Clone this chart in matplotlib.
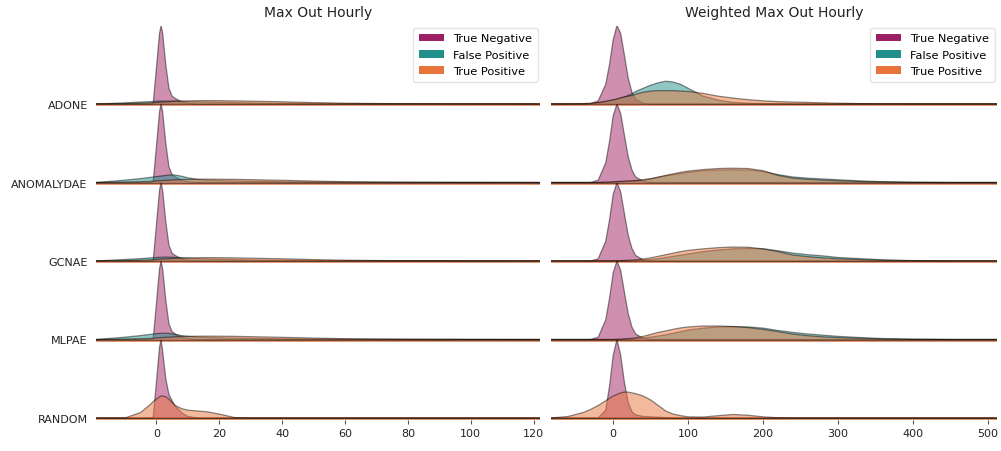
import matplotlib
matplotlib.use("Agg")
import matplotlib.pyplot as plt
from matplotlib.patches import Patch
import numpy as np

# ---------------- data (relative KDE heights) ----------------
MODELS = ["ADONE", "ANOMALYDAE", "GCNAE", "MLPAE", "RANDOM"]
CLASSES = ["True Negative", "False Positive", "True Positive"]
COLORS = ["#9e2064", "#21908c", "#e8743b"]
TITLES = ["Max Out Hourly", "Weighted Max Out Hourly"]

# Left panel: Max Out Hourly
LX = [-19, -10, -5, -2, -1, 0, 1, 1.5, 2, 3, 4, 5, 6, 8, 10, 13, 16, 20, 25, 30, 40, 50, 60, 70, 80, 100, 122]
LEFT_TN = [
    [0, 0, 0, 0, 0.01, 0.45, 0.9, 1.0, 0.9, 0.5, 0.2, 0.1, 0.07, 0.03, 0.01, 0, 0, 0, 0, 0, 0, 0, 0, 0, 0, 0, 0],
    [0, 0, 0, 0, 0.01, 0.45, 0.9, 1.0, 0.9, 0.5, 0.2, 0.1, 0.07, 0.03, 0.01, 0, 0, 0, 0, 0, 0, 0, 0, 0, 0, 0, 0],
    [0, 0, 0, 0, 0.01, 0.45, 0.9, 1.0, 0.9, 0.5, 0.2, 0.1, 0.07, 0.03, 0.01, 0, 0, 0, 0, 0, 0, 0, 0, 0, 0, 0, 0],
    [0, 0, 0, 0, 0.01, 0.45, 0.9, 1.0, 0.9, 0.5, 0.2, 0.1, 0.07, 0.03, 0.01, 0, 0, 0, 0, 0, 0, 0, 0, 0, 0, 0, 0],
    [0, 0, 0, 0, 0.01, 0.45, 0.9, 1.0, 0.85, 0.5, 0.3, 0.22, 0.15, 0.07, 0.02, 0, 0, 0, 0, 0, 0, 0, 0, 0, 0, 0, 0],
]
LEFT_FP = [
    [0, 0.015, 0.025, 0.03, 0.032, 0.035, 0.037, 0.038, 0.038, 0.038, 0.037, 0.036, 0.035, 0.033, 0.03, 0.028, 0.025, 0.022, 0.018, 0.014, 0.008, 0.004, 0.002, 0.001, 0, 0, 0],
    [0, 0.03, 0.05, 0.065, 0.07, 0.075, 0.08, 0.082, 0.085, 0.09, 0.095, 0.097, 0.095, 0.08, 0.06, 0.04, 0.03, 0.025, 0.02, 0.016, 0.01, 0.006, 0.004, 0.002, 0.001, 0, 0],
    [0, 0.02, 0.03, 0.04, 0.042, 0.045, 0.047, 0.048, 0.049, 0.05, 0.05, 0.048, 0.045, 0.04, 0.035, 0.03, 0.026, 0.022, 0.018, 0.014, 0.009, 0.005, 0.003, 0.002, 0.001, 0, 0],
    [0, 0.03, 0.05, 0.065, 0.07, 0.075, 0.078, 0.08, 0.08, 0.08, 0.078, 0.072, 0.065, 0.05, 0.04, 0.032, 0.027, 0.022, 0.018, 0.014, 0.009, 0.005, 0.003, 0.002, 0.001, 0, 0],
    [0, 0, 0, 0, 0, 0, 0, 0, 0, 0, 0, 0, 0, 0, 0, 0, 0, 0, 0, 0, 0, 0, 0, 0, 0, 0, 0],
]
LEFT_TP = [
    [0, 0.005, 0.01, 0.015, 0.017, 0.02, 0.023, 0.024, 0.025, 0.028, 0.03, 0.033, 0.035, 0.038, 0.04, 0.042, 0.043, 0.042, 0.04, 0.036, 0.028, 0.018, 0.01, 0.006, 0.004, 0.002, 0],
    [0, 0.005, 0.01, 0.015, 0.017, 0.02, 0.023, 0.024, 0.025, 0.028, 0.03, 0.033, 0.035, 0.038, 0.04, 0.042, 0.043, 0.042, 0.04, 0.036, 0.028, 0.018, 0.01, 0.006, 0.004, 0.002, 0],
    [0, 0.005, 0.01, 0.015, 0.017, 0.02, 0.023, 0.024, 0.025, 0.028, 0.03, 0.033, 0.035, 0.038, 0.04, 0.042, 0.043, 0.042, 0.04, 0.036, 0.028, 0.018, 0.01, 0.006, 0.004, 0.002, 0],
    [0, 0.005, 0.01, 0.015, 0.017, 0.02, 0.023, 0.024, 0.025, 0.028, 0.03, 0.033, 0.035, 0.038, 0.04, 0.042, 0.043, 0.042, 0.04, 0.036, 0.028, 0.018, 0.01, 0.006, 0.004, 0.002, 0],
    [0, 0, 0.07, 0.17, 0.21, 0.24, 0.27, 0.28, 0.28, 0.27, 0.24, 0.2, 0.16, 0.12, 0.1, 0.09, 0.08, 0.05, 0.005, 0, 0, 0, 0, 0, 0, 0, 0],
]

# Right panel: Weighted Max Out Hourly
RX = [-83, -60, -40, -30, -20, -10, -5, 0, 5, 10, 15, 20, 25, 30, 40, 50, 60, 70, 80, 90, 100,
      120, 140, 160, 180, 200, 220, 240, 260, 280, 300, 330, 360, 400, 450, 512]
RIGHT_TN = [
    [0, 0, 0, 0.005, 0.04, 0.25, 0.5, 0.82, 1.0, 0.9, 0.62, 0.33, 0.15, 0.06, 0.01, 0, 0, 0, 0, 0, 0, 0, 0, 0, 0, 0, 0, 0, 0, 0, 0, 0, 0, 0, 0, 0],
    [0, 0, 0, 0, 0.03, 0.25, 0.52, 0.85, 1.0, 0.88, 0.6, 0.33, 0.16, 0.07, 0.015, 0, 0, 0, 0, 0, 0, 0, 0, 0, 0, 0, 0, 0, 0, 0, 0, 0, 0, 0, 0, 0],
    [0, 0, 0, 0, 0.03, 0.25, 0.52, 0.85, 1.0, 0.88, 0.6, 0.33, 0.16, 0.07, 0.015, 0, 0, 0, 0, 0, 0, 0, 0, 0, 0, 0, 0, 0, 0, 0, 0, 0, 0, 0, 0, 0],
    [0, 0, 0, 0, 0.03, 0.25, 0.52, 0.85, 1.0, 0.88, 0.6, 0.33, 0.16, 0.07, 0.015, 0, 0, 0, 0, 0, 0, 0, 0, 0, 0, 0, 0, 0, 0, 0, 0, 0, 0, 0, 0, 0],
    [0, 0, 0, 0, 0, 0.1, 0.4, 0.8, 1.0, 0.8, 0.45, 0.2, 0.08, 0.04, 0.02, 0.015, 0.01, 0.005, 0, 0, 0, 0, 0, 0, 0, 0, 0, 0, 0, 0, 0, 0, 0, 0, 0, 0],
]
RIGHT_FP = [
    [0, 0, 0, 0.005, 0.015, 0.03, 0.04, 0.05, 0.06, 0.075, 0.09, 0.11, 0.13, 0.16, 0.2, 0.24, 0.27, 0.29, 0.28, 0.25, 0.2, 0.1, 0.05, 0.02, 0.01, 0.005, 0.003, 0, 0, 0, 0, 0, 0, 0, 0, 0],
    [0, 0, 0, 0, 0, 0, 0, 0.005, 0.007, 0.01, 0.012, 0.015, 0.017, 0.02, 0.03, 0.045, 0.065, 0.085, 0.1, 0.115, 0.13, 0.15, 0.16, 0.163, 0.16, 0.14, 0.1, 0.07, 0.055, 0.045, 0.035, 0.02, 0.01, 0.003, 0, 0],
    [0, 0, 0, 0, 0, 0, 0, 0, 0, 0, 0, 0.002, 0.004, 0.006, 0.01, 0.02, 0.03, 0.045, 0.06, 0.075, 0.09, 0.12, 0.14, 0.155, 0.16, 0.155, 0.13, 0.1, 0.08, 0.065, 0.045, 0.03, 0.015, 0.005, 0, 0],
    [0, 0, 0, 0, 0, 0, 0, 0, 0, 0, 0.003, 0.005, 0.007, 0.01, 0.02, 0.03, 0.045, 0.06, 0.08, 0.1, 0.12, 0.145, 0.16, 0.165, 0.16, 0.145, 0.115, 0.09, 0.07, 0.055, 0.04, 0.025, 0.012, 0.004, 0, 0],
    [0, 0, 0, 0, 0, 0, 0, 0, 0, 0, 0, 0, 0, 0, 0, 0, 0, 0, 0, 0, 0, 0, 0, 0, 0, 0, 0, 0, 0, 0, 0, 0, 0, 0, 0, 0],
]
RIGHT_TP = [
    [0, 0, 0.005, 0.01, 0.02, 0.035, 0.045, 0.055, 0.065, 0.08, 0.09, 0.1, 0.11, 0.125, 0.15, 0.165, 0.17, 0.17, 0.17, 0.165, 0.16, 0.135, 0.1, 0.075, 0.055, 0.04, 0.03, 0.025, 0.02, 0.015, 0.01, 0.005, 0.002, 0, 0, 0],
    [0, 0, 0, 0, 0, 0.005, 0.007, 0.01, 0.012, 0.015, 0.017, 0.02, 0.022, 0.025, 0.035, 0.05, 0.07, 0.09, 0.11, 0.13, 0.145, 0.165, 0.178, 0.182, 0.178, 0.15, 0.09, 0.055, 0.04, 0.03, 0.022, 0.013, 0.007, 0.002, 0, 0],
    [0, 0, 0, 0, 0, 0, 0, 0, 0.003, 0.005, 0.007, 0.01, 0.012, 0.015, 0.025, 0.04, 0.06, 0.08, 0.1, 0.12, 0.135, 0.155, 0.17, 0.178, 0.175, 0.155, 0.12, 0.075, 0.055, 0.04, 0.028, 0.018, 0.009, 0.003, 0, 0],
    [0, 0, 0, 0, 0, 0, 0, 0, 0.003, 0.005, 0.007, 0.01, 0.015, 0.022, 0.04, 0.065, 0.09, 0.11, 0.13, 0.148, 0.16, 0.172, 0.172, 0.165, 0.152, 0.128, 0.1, 0.068, 0.048, 0.034, 0.024, 0.014, 0.007, 0.002, 0, 0],
    [0, 0.02, 0.07, 0.11, 0.16, 0.22, 0.25, 0.28, 0.3, 0.32, 0.33, 0.33, 0.32, 0.31, 0.28, 0.23, 0.16, 0.09, 0.05, 0.03, 0.015, 0.012, 0.03, 0.045, 0.035, 0.015, 0.003, 0, 0, 0, 0, 0, 0, 0, 0, 0],
]

LEFT_TICKS = [0, 20, 40, 60, 80, 100, 120]
RIGHT_TICKS = [0, 100, 200, 300, 400, 500]

# ---------------- drawing ----------------
W, H = 1001, 452
fig = plt.figure(figsize=(W / 100, H / 100), dpi=100)

panels = [
    dict(x=LX, curves=[LEFT_TN, LEFT_FP, LEFT_TP], ticks=LEFT_TICKS, xlim=(-19.2, 122),
         left=96, right=540, ylabels=True),
    dict(x=RX, curves=[RIGHT_TN, RIGHT_FP, RIGHT_TP], ticks=RIGHT_TICKS, xlim=(-83, 512),
         left=551, right=997, ylabels=False),
]

base0 = 105.0
step = 78.5
ylo = -0.03
text_color = "#222222"

for p_i, p in enumerate(panels):
    for r, model in enumerate(MODELS):
        base = base0 + step * r
        bottom_px = base + (-ylo) * step
        height_px = (1.0 - ylo) * step
        ax = fig.add_axes([p["left"] / W, 1 - bottom_px / H,
                           (p["right"] - p["left"]) / W, height_px / H])
        ax.patch.set_alpha(0)
        x = np.array(p["x"], dtype=float)
        ax.axhline(0, color=COLORS[2], lw=2.0, alpha=0.8, zorder=0.5)
        for c_i, curves in enumerate(p["curves"]):
            y = np.array(curves[r], dtype=float)
            ax.fill_between(x, 0, y, facecolor=COLORS[c_i], alpha=0.5,
                            edgecolor="none", zorder=1 + c_i)
            ax.plot(x, y, color="black", alpha=0.45, lw=0.9, zorder=1.5 + c_i)
        ax.axhline(0, color="#4a3028", lw=0.8, alpha=0.7, zorder=5)
        ax.set_xlim(*p["xlim"])
        ax.set_ylim(ylo, 1.0)
        for s in ax.spines.values():
            s.set_visible(False)
        if p["ylabels"]:
            ax.set_yticks([0])
            ax.set_yticklabels([model], fontsize=8, color=text_color)
            ax.tick_params(axis="y", length=0, pad=6)
        else:
            ax.set_yticks([])
        if r == len(MODELS) - 1:
            ax.set_xticks(p["ticks"])
            ax.set_xticklabels([str(t) for t in p["ticks"]], fontsize=8, color=text_color)
            ax.tick_params(axis="x", length=2.8, width=0.8, color="#555555", pad=3)
        else:
            ax.set_xticks([])
        if r == 0:
            ax.set_title(TITLES[p_i], fontsize=10, color=text_color, pad=7)
            handles = [Patch(facecolor=c, edgecolor="none") for c in COLORS]
            ax.legend(handles, CLASSES, loc="upper right", fontsize=8.2,
                      borderaxespad=0.2, frameon=True, framealpha=0.8,
                      edgecolor="#dddddd", fancybox=True, labelspacing=0.55,
                      handlelength=2.2, borderpad=0.5)

fig.savefig("out.png", dpi=100)
